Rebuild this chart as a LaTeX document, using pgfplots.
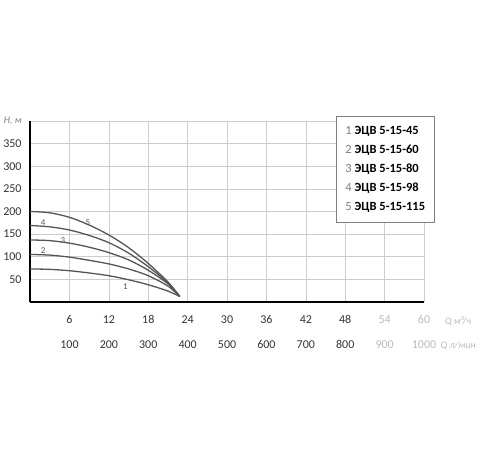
\documentclass[border=0pt]{standalone}
\usepackage{pgfplots}
\pgfplotsset{compat=1.18}
\usepackage{fontspec}
\setmainfont{Carlito}
\definecolor{curve}{HTML}{555555}
\definecolor{gridc}{HTML}{CCCCCC}
\definecolor{txt}{HTML}{333333}
\definecolor{blur}{HTML}{BBBBBB}

\begin{document}
\begin{tikzpicture}
% page frame: 500 x 450 with the axis box at (30,148) from the lower left
\path (-30pt,-148pt) rectangle (470pt,302pt);
\begin{axis}[
    at={(0pt,0pt)}, anchor=south west,
    scale only axis,
    width=394pt, height=181pt,
    xmin=0, xmax=60, ymin=0, ymax=400,
    axis x line*=bottom, axis y line*=left,
    axis line style={line width=1.6pt, black},
    xtick={6,12,...,60},
    ytick={50,100,...,400},
    xticklabels={6\\100, 12\\200, 18\\300, 24\\400, 30\\500, 36\\600, 42\\700, 48\\800,
        {\textcolor{blur}{54}\\\textcolor{blur}{900}}, {\textcolor{blur}{60}\\\textcolor{blur}{1000}}},
    yticklabels={50,100,150,200,250,300,350,{\fontsize{10}{10}\selectfont\itshape\textcolor{gray}{H, м}}},
    xticklabel style={font=\fontsize{12}{25}\selectfont, align=center, text=txt, yshift=-10pt},
    yticklabel style={font=\fontsize{12}{14}\selectfont, text=txt, xshift=-5pt},
    major tick length=0pt,
    grid=major,
    major grid style={gridc, line width=0.6pt},
    clip=false,
    legend style={at={(rel axis cs:0.777,1.028)}, anchor=north west,
        draw=gray, line width=0.6pt, font=\fontsize{12.5}{14}\selectfont,
        inner xsep=7pt, inner ysep=8pt, row sep=5pt},
    legend cell align=left,
    legend image code/.code={},
]
\addplot[curve, line width=1.3pt, smooth] coordinates {
    (0,73) (3,72) (6,69) (9,64) (12,58) (15,49) (18,38) (21,24) (22.8,12)};
\addlegendentry{\textcolor{gray}{1} \textbf{ЭЦВ 5-15-45}}
\addplot[curve, line width=1.3pt, smooth] coordinates {
    (0,105) (3,103.5) (6,99) (9,92) (12,84) (15,73) (18,58) (21,35) (22.8,12)};
\addlegendentry{\textcolor{gray}{2} \textbf{ЭЦВ 5-15-60}}
\addplot[curve, line width=1.3pt, smooth] coordinates {
    (0,137) (3,135.5) (6,130) (9,121) (12,109) (15,93) (18,70) (21,40) (22.8,12)};
\addlegendentry{\textcolor{gray}{3} \textbf{ЭЦВ 5-15-80}}
\addplot[curve, line width=1.3pt, smooth] coordinates {
    (0,169) (3,166) (6,159) (9,147) (12,131) (15,108) (18,78) (21,42) (22.8,12)};
\addlegendentry{\textcolor{gray}{4} \textbf{ЭЦВ 5-15-98}}
\addplot[curve, line width=1.3pt, smooth] coordinates {
    (0,200) (3,197) (6,187) (9,170) (12,148) (15,120) (18,85) (21,44) (22.8,12)};
\addlegendentry{\textcolor{gray}{5} \textbf{ЭЦВ 5-15-115}}

% curve numbers
\begin{scope}[every node/.style={font=\fontsize{9}{9}\selectfont, text=curve}]
\node at (axis cs:14.5,33) {1};
\node at (axis cs:2,113) {2};
\node at (axis cs:5,135) {3};
\node at (axis cs:2,175) {4};
\node at (axis cs:8.8,175) {5};
\end{scope}

% axis names at the right of the tick labels
\node[font=\fontsize{10}{10}\selectfont, text=blur] at (axis cs:65.2,0) [yshift=-19pt] {Q м³/ч};
\node[font=\fontsize{10}{10}\selectfont\itshape, text=blur] at (axis cs:65.2,0) [yshift=-44pt] {Q л/мин};
\end{axis}
\end{tikzpicture}
\end{document}
